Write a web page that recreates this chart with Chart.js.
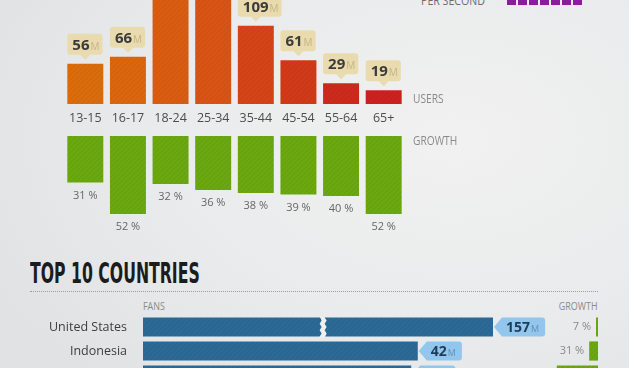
<!DOCTYPE html>
<html>
<head>
<meta charset="utf-8">
<script src="https://cdn.jsdelivr.net/npm/chart.js@4.4.1/dist/chart.umd.min.js"></script>
<style>
html, body { margin: 0; padding: 0; width: 629px; height: 368px; overflow: hidden; }
body {
    position: relative;
    background: radial-gradient(ellipse 520px 330px at 72% 38%, #f1f1f1 0%, #eaebec 55%, #e1e2e3 100%);
    font-family: "Open Sans", sans-serif;
}
canvas { position: absolute; }
.txt { position: absolute; white-space: nowrap; }
.small { font-family: "Open Sans", sans-serif; color: #8a8a8a; transform: scaleX(0.85); }
.icon { position: absolute; top: -3px; width: 9px; height: 8px; background: #8b1c9c; }
</style>
</head>
<body>

<div class="txt small" style="left:421px; top:-6px; font-size:12.5px; line-height:13px; color:#6d6d6d; transform-origin:left top;">PER SECOND</div>
<div id="icons"></div>

<canvas id="usersChart" width="420" height="128" style="left:0; top:0;"></canvas>
<canvas id="growthChart" width="420" height="112" style="left:0; top:128px;"></canvas>

<div class="txt small" style="left:413px; top:92px; font-size:12px; line-height:13px; transform-origin:left top;">USERS</div>
<div class="txt small" style="left:413px; top:134px; font-size:12px; line-height:13px; transform-origin:left top;">GROWTH</div>

<div id="title" class="txt" style="left:30px; top:259px; font-family:'DejaVu Sans Condensed','DejaVu Sans',sans-serif; font-stretch:condensed; font-weight:bold; font-size:27.5px; line-height:28px; color:#1c1c1c; transform-origin:left top;">TOP 10 COUNTRIES</div>
<div style="position:absolute; left:30px; top:291px; width:568px; border-top:1px dotted #9c9c9c;"></div>
<div class="txt small" style="left:143px; top:300px; font-size:10.5px; line-height:12px; transform-origin:left top;">FANS</div>
<div class="txt small" style="right:31px; top:300px; font-size:10.5px; line-height:12px; transform-origin:right top;">GROWTH</div>

<canvas id="fansChart" width="560" height="80" style="left:0; top:315px;"></canvas>
<canvas id="countryGrowthChart" width="129" height="80" style="left:500px; top:315px;"></canvas>

<script>
// Users by age (millions) and growth (%)
const ageGroups = ['13-15', '16-17', '18-24', '25-34', '35-44', '45-54', '55-64', '65+'];
const usersMillions = [56, 66, 228, 215, 109, 61, 29, 19];
const growthPct = [31, 52, 32, 36, 38, 39, 40, 52];

// Top countries
const countries = ['United States', 'Indonesia', 'India'];
const fansMillions = [157, 42, 41];
const countryGrowthPct = [7, 31, 145];
const fansBreakAt = 27;   // where the fans axis is cut for the US bar

const perSecondIcons = 7;

const usersColors = ['#da6c0c', '#da660e', '#da5c12', '#d95414', '#d44416', '#d03a18', '#cc2b1b', '#cc221f'];

// squeeze the title to the width of the original condensed face
const title = document.getElementById('title');
title.style.transform = 'scaleX(' + (170 / title.offsetWidth) + ')';

// little striped fill like the original bars
function stripes(color) {
    const c = document.createElement('canvas');
    c.width = c.height = 5;
    const g = c.getContext('2d');
    g.fillStyle = color;
    g.fillRect(0, 0, 5, 5);
    g.strokeStyle = 'rgba(0,0,0,0.06)';
    g.lineWidth = 1;
    g.beginPath();
    g.moveTo(-1, 6); g.lineTo(6, -1);
    g.moveTo(-1, 1); g.lineTo(1, -1);
    g.moveTo(4, 6); g.lineTo(6, 4);
    g.stroke();
    return g.createPattern(c, 'repeat');
}

const icons = document.getElementById('icons');
for (let i = 0; i < perSecondIcons; i++) {
    const d = document.createElement('div');
    d.className = 'icon';
    d.style.left = (507 + i * 11) + 'px';
    icons.appendChild(d);
}

function usersTag(ctx, value, left, top, tipX) {
    ctx.font = 'bold 15px "Open Sans"';
    const wNum = ctx.measureText(String(value)).width;
    ctx.font = '10px "Open Sans"';
    const wM = ctx.measureText('M').width;
    const w = Math.max(34, wNum + wM + 9);
    ctx.fillStyle = '#e9dbae';
    ctx.beginPath();
    ctx.roundRect(left, top, w, 21, 3);
    ctx.fill();
    ctx.beginPath();
    ctx.moveTo(tipX - 5, top + 21);
    ctx.lineTo(tipX, top + 26);
    ctx.lineTo(tipX + 5, top + 21);
    ctx.fill();
    ctx.textAlign = 'left';
    ctx.textBaseline = 'alphabetic';
    ctx.font = 'bold 15px "Open Sans"';
    ctx.fillStyle = '#3b3b3b';
    ctx.fillText(String(value), left + 5, top + 16);
    ctx.font = '10px "Open Sans"';
    ctx.fillStyle = '#c4b48a';
    ctx.fillText('M', left + 6 + wNum, top + 16);
}

const usersDeco = {
    id: 'usersDeco',
    afterDatasetsDraw(chart) {
        const ctx = chart.ctx;
        ctx.save();
        chart.getDatasetMeta(0).data.forEach((bar, i) => {
            ctx.font = '12.5px "Open Sans"';
            ctx.fillStyle = '#4d4d4d';
            ctx.textAlign = 'center';
            ctx.textBaseline = 'middle';
            ctx.fillText(ageGroups[i], bar.x, 118);
            if (bar.y > 5) usersTag(ctx, usersMillions[i], bar.x - 18, bar.y - 30, bar.x);
        });
        ctx.restore();
    }
};

new Chart(document.getElementById('usersChart'), {
    type: 'bar',
    data: {
        labels: ageGroups,
        datasets: [{
            data: usersMillions,
            backgroundColor: usersColors.map(stripes),
            barPercentage: 0.844,
            categoryPercentage: 1,
            clip: 0
        }]
    },
    options: {
        responsive: false,
        animation: false,
        layout: { padding: { left: 64, right: 15, top: 0, bottom: 24 } },
        plugins: { legend: { display: false }, tooltip: { enabled: false } },
        scales: {
            x: { display: false },
            y: { display: false, min: 0, max: 145 }
        }
    },
    plugins: [usersDeco]
});

const growthDeco = {
    id: 'growthDeco',
    afterDatasetsDraw(chart) {
        const ctx = chart.ctx;
        ctx.save();
        ctx.font = '11px "Open Sans"';
        ctx.fillStyle = '#666';
        ctx.textAlign = 'center';
        ctx.textBaseline = 'middle';
        chart.getDatasetMeta(0).data.forEach((bar, i) => {
            ctx.fillText(growthPct[i] + ' %', bar.x, bar.y + 13);
        });
        ctx.restore();
    }
};

new Chart(document.getElementById('growthChart'), {
    type: 'bar',
    data: {
        labels: ageGroups,
        datasets: [{
            data: growthPct,
            backgroundColor: stripes('#6ba70e'),
            barPercentage: 0.844,
            categoryPercentage: 1
        }]
    },
    options: {
        responsive: false,
        animation: false,
        layout: { padding: { left: 64, right: 15, top: 8, bottom: 14 } },
        plugins: { legend: { display: false }, tooltip: { enabled: false } },
        scales: {
            x: { display: false },
            y: { display: false, reverse: true, min: 0, max: 60 }
        }
    },
    plugins: [growthDeco]
});

const fansDeco = {
    id: 'fansDeco',
    afterDatasetsDraw(chart) {
        const ctx = chart.ctx;
        const area = chart.chartArea;
        const xs = chart.scales.x;
        ctx.save();
        chart.getDatasetMeta(0).data.forEach((bar, i) => {
            const h = bar.height;
            const top = bar.y - h / 2;

            ctx.font = '12.5px "Open Sans"';
            ctx.fillStyle = '#3d3d3d';
            ctx.textAlign = 'right';
            ctx.textBaseline = 'middle';
            ctx.fillText(countries[i], 127, bar.y);

            // cut mark on bars that run past the axis
            if (fansMillions[i] > xs.max) {
                const gx = xs.getPixelForValue(fansBreakAt);
                const n = 3, seg = h / n;
                ctx.fillStyle = '#efefef';
                ctx.beginPath();
                ctx.moveTo(gx, top - 1);
                for (let k = 0; k < n; k++) {
                    ctx.lineTo(gx + 2, top + seg * (k + 0.5));
                    ctx.lineTo(gx, top + seg * (k + 1));
                }
                ctx.lineTo(gx, top + h + 1);
                ctx.lineTo(gx + 5, top + h + 1);
                for (let k = n - 1; k >= 0; k--) {
                    ctx.lineTo(gx + 7, top + seg * (k + 0.5));
                    ctx.lineTo(gx + 5, top + seg * k);
                }
                ctx.lineTo(gx + 5, top - 1);
                ctx.closePath();
                ctx.fill();
            }

            // value bubble
            const tip = Math.min(bar.x, area.right);
            ctx.font = 'bold 14px "Open Sans"';
            const wNum = ctx.measureText(String(fansMillions[i])).width;
            ctx.font = '9px "Open Sans"';
            const wM = ctx.measureText('M').width;
            const right = tip + 13 + wNum + wM + 7;
            ctx.fillStyle = '#92c6ec';
            ctx.beginPath();
            ctx.moveTo(tip + 1, bar.y);
            ctx.lineTo(tip + 9, top);
            ctx.lineTo(right - 3, top);
            ctx.quadraticCurveTo(right, top, right, top + 3);
            ctx.lineTo(right, top + h - 3);
            ctx.quadraticCurveTo(right, top + h, right - 3, top + h);
            ctx.lineTo(tip + 9, top + h);
            ctx.closePath();
            ctx.fill();
            ctx.textAlign = 'left';
            ctx.textBaseline = 'alphabetic';
            ctx.font = 'bold 14px "Open Sans"';
            ctx.fillStyle = '#1d3c57';
            ctx.fillText(String(fansMillions[i]), tip + 13, bar.y + 5);
            ctx.font = '9px "Open Sans"';
            ctx.fillStyle = '#5f92b8';
            ctx.fillText('M', tip + 14 + wNum, bar.y + 5);
        });
        ctx.restore();
    }
};

new Chart(document.getElementById('fansChart'), {
    type: 'bar',
    data: {
        labels: countries,
        datasets: [{
            data: fansMillions,
            backgroundColor: stripes('#2c6a95'),
            barPercentage: 0.8,
            categoryPercentage: 1,
            clip: 0
        }]
    },
    options: {
        indexAxis: 'y',
        responsive: false,
        animation: false,
        layout: { padding: { left: 143, right: 67, top: 0, bottom: 8 } },
        plugins: { legend: { display: false }, tooltip: { enabled: false } },
        scales: {
            x: { display: false, min: 0, max: 53.5 },
            y: { display: false }
        }
    },
    plugins: [fansDeco]
});

const countryGrowthDeco = {
    id: 'countryGrowthDeco',
    afterDatasetsDraw(chart) {
        const ctx = chart.ctx;
        ctx.save();
        ctx.font = '11px "Open Sans"';
        ctx.fillStyle = '#8a8a8a';
        ctx.textAlign = 'right';
        ctx.textBaseline = 'middle';
        chart.getDatasetMeta(0).data.forEach((bar, i) => {
            ctx.fillText(countryGrowthPct[i] + ' %', bar.x - 5, bar.y);
        });
        ctx.restore();
    }
};

new Chart(document.getElementById('countryGrowthChart'), {
    type: 'bar',
    data: {
        labels: countries,
        datasets: [{
            data: countryGrowthPct,
            backgroundColor: stripes('#6ba70e'),
            barPercentage: 0.8,
            categoryPercentage: 1
        }]
    },
    options: {
        indexAxis: 'y',
        responsive: false,
        animation: false,
        layout: { padding: { left: 44, right: 31, top: 0, bottom: 8 } },
        plugins: { legend: { display: false }, tooltip: { enabled: false } },
        scales: {
            x: { display: false, reverse: true, min: 0, max: 190 },
            y: { display: false }
        }
    },
    plugins: [countryGrowthDeco]
});
</script>
</body>
</html>
